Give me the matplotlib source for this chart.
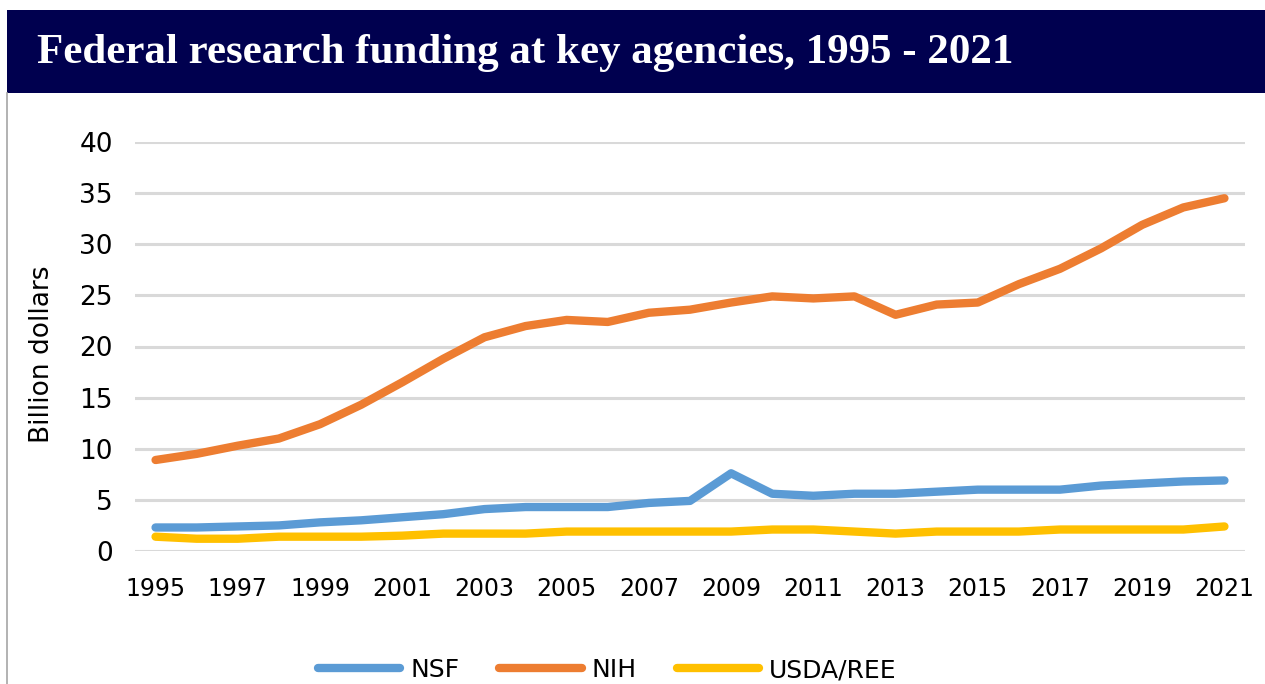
import numpy as np
import matplotlib.pyplot as plt
from matplotlib.patches import Rectangle
from matplotlib.lines import Line2D

# =========================
# Data (billion dollars)
# =========================
years = list(range(1995, 2022))
nsf = [2.3, 2.3, 2.4, 2.5, 2.8, 3.0, 3.3, 3.6, 4.1, 4.3, 4.3, 4.3, 4.7, 4.9,
       7.6, 5.6, 5.4, 5.6, 5.6, 5.8, 6.0, 6.0, 6.0, 6.4, 6.6, 6.8, 6.9]
nih = [8.9, 9.5, 10.3, 11.0, 12.4, 14.3, 16.5, 18.8, 20.9, 22.0, 22.6, 22.4,
       23.3, 23.6, 24.3, 24.9, 24.7, 24.9, 23.1, 24.1, 24.3, 26.1, 27.6, 29.6,
       31.9, 33.6, 34.5]
usda = [1.4, 1.2, 1.2, 1.4, 1.4, 1.4, 1.5, 1.7, 1.7, 1.7, 1.9, 1.9, 1.9, 1.9,
        1.9, 2.1, 2.1, 1.9, 1.7, 1.9, 1.9, 1.9, 2.1, 2.1, 2.1, 2.1, 2.4]
series_names = ["NSF", "NIH", "USDA/REE"]
colors = ["#5b9bd5", "#ed7d31", "#ffc000"]
title = "Federal research funding at key agencies, 1995 - 2021"

W, H = 1265, 684
fig = plt.figure(figsize=(W / 100, H / 100), dpi=100)

# title banner
fig.patches.append(Rectangle((7 / W, 1 - 93 / H), 1 - 7 / W, 83 / H,
                             transform=fig.transFigure, facecolor="#00004f",
                             edgecolor="none", zorder=0))
fig.text(37 / W, 1 - 53 / H, title, color="white", fontsize=31,
         fontweight="bold", family="Liberation Serif", va="center", ha="left")
# thin left border
fig.add_artist(Line2D([7 / W, 7 / W], [0, 1 - 93 / H], transform=fig.transFigure,
                      color="#a6a6a6", lw=1.2))

# =========================
# Plot
# =========================
ax = fig.add_axes([135 / W, 1 - 551 / H, 1110 / W, 409 / H])
for vals, name, c in zip([nsf, nih, usda], series_names, colors):
    ax.plot(years, vals, color=c, lw=6, solid_capstyle="round",
            solid_joinstyle="round", label=name, zorder=3)

ax.set_xlim(1994.5, 2021.5)
ax.set_ylim(0, 40)
ax.set_yticks(np.arange(0, 41, 5))
ax.set_xticks(years[::2])
ax.yaxis.grid(True, color="#d9d9d9", lw=2.2)
ax.set_axisbelow(True)
for s in ax.spines.values():
    s.set_visible(False)
ax.tick_params(length=0)
ax.tick_params(axis="y", labelsize=19, pad=16)
ax.tick_params(axis="x", labelsize=17, pad=19)
ax.set_ylabel("Billion dollars", fontsize=19)
ax.yaxis.set_label_coords(-80 / 1110, 0.48)

fig.legend(loc="center", bbox_to_anchor=(0.48, 1 - 670 / H), ncol=3,
           frameon=False, fontsize=18, handlelength=3.3, handletextpad=0.4,
           columnspacing=1.6)

fig.savefig("out.png", dpi=100)
